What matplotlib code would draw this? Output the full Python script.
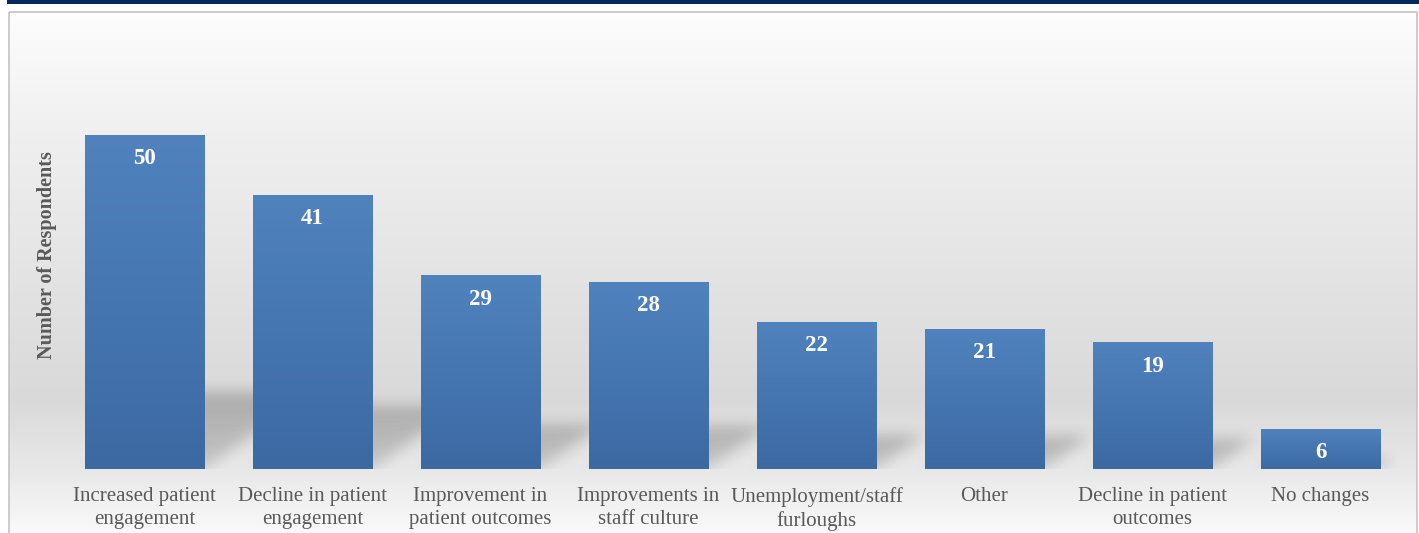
import numpy as np
import matplotlib
matplotlib.use("Agg")
import matplotlib.pyplot as plt
from matplotlib.colors import LinearSegmentedColormap
from matplotlib.patches import Rectangle

# data
categories = ["Increased patient\nengagement", "Decline in patient\nengagement",
              "Improvement in\npatient outcomes", "Improvements in\nstaff culture",
              "Unemployment/staff\nfurloughs", "Other", "Decline in patient\noutcomes",
              "No changes"]
respondents = [50, 41, 29, 28, 22, 21, 19, 6]

W, H = 1419, 533
fig = plt.figure(figsize=(W / 100, H / 100), dpi=100)
fig.patch.set_facecolor("white")

# navy band on top and the frame with its grey gradient
bg = fig.add_axes([0, 0, 1, 1], zorder=0)
bg.set_xlim(0, W)
bg.set_ylim(H, 0)
bg.axis("off")
grad_stops = [(0.0, "#fdfdfd"), (0.22, "#f0f0f0"), (0.73, "#d9d9d9"),
              (0.87, "#e9e9e9"), (1.0, "#fcfcfc")]
bg_cmap = LinearSegmentedColormap.from_list("bg", grad_stops)
grad = np.tile(np.linspace(0, 1, 512).reshape(-1, 1), (1, 8))
bg.imshow(grad, cmap=bg_cmap, aspect="auto", interpolation="bilinear",
          extent=(9, 1417, H + 10, 12), zorder=0)
bg.set_xlim(0, W)
bg.set_ylim(H, 0)
bg.add_patch(Rectangle((8.5, 11.5), 1408, 530, fill=False, edgecolor="#c4c4c4", lw=1.2, zorder=1))
bg.add_patch(Rectangle((7, 0), W - 7, 4, color="#002b5c", lw=0, zorder=2))

# main axes
ax = fig.add_axes([60.5 / W, (H - 469) / H, 1344 / W, 401 / H], zorder=1)
ax.patch.set_alpha(0)
x = np.arange(len(respondents))
for s in ax.spines.values():
    s.set_visible(False)
ax.set_yticks([])
ax.set_xticks(x)
ax.set_xticklabels(categories, fontfamily="Liberation Serif", fontsize=15,
                   color="#595959", linespacing=1.25)
ax.tick_params(axis="x", length=0, pad=13)

width = 0.71
bars = ax.bar(x, respondents, width=width, color="#4a78b3", edgecolor="#6a98d0",
              linewidth=0.6, zorder=3)

# perspective shadows cast up and to the right of every bar
ymax = 60
ncol, nrow = 1344, 401
xs = np.linspace(-0.5, len(respondents) - 0.5, ncol)
ys = np.linspace(0, ymax, nrow)
XX, YY = np.meshgrid(xs, ys)
alpha = np.zeros_like(XX)
px_ratio = (401 / ymax) / (1344 / len(respondents))
for xi, v in zip(x, respondents):
    hs = 0.23 * v
    dxu = 0.32 * v * px_ratio
    shift = YY / hs * dxu
    m = (YY <= hs) & (XX >= xi - width / 2 + shift) & (XX <= xi + width / 2 + shift)
    a = 0.15 + 0.06 * (YY / hs)
    alpha = np.maximum(alpha, np.where(m, a, 0))


def blur(img, sigma):
    k = np.arange(-3 * sigma, 3 * sigma + 1)
    g = np.exp(-k ** 2 / (2 * sigma ** 2))
    g /= g.sum()
    img = np.apply_along_axis(lambda r: np.convolve(r, g, mode="same"), 1, img)
    img = np.apply_along_axis(lambda c: np.convolve(c, g, mode="same"), 0, img)
    return img


alpha = blur(alpha, 7)
shadow = np.zeros((nrow, ncol, 4))
shadow[..., 3] = alpha
ax.imshow(shadow, origin="lower", extent=(-0.5, len(respondents) - 0.5, 0, ymax),
          aspect="auto", zorder=1, interpolation="nearest")

# vertical gradient fill in each bar
bar_cmap = LinearSegmentedColormap.from_list("bar", ["#3d69a2", "#4576b2", "#5082be"])
for b in bars:
    im = ax.imshow(np.tile(np.linspace(0, 1, 128).reshape(-1, 1), (1, 4)), cmap=bar_cmap,
                   origin="lower", aspect="auto", zorder=3.5, interpolation="bilinear",
                   extent=(b.get_x(), b.get_x() + b.get_width(), 0, b.get_height()))
    im.set_clip_path(b)

for xi, v in zip(x, respondents):
    ax.annotate(str(v), (xi, v), xytext=(0, -24), textcoords="offset pixels",
                ha="center", va="center", color="white", fontsize=16.5,
                fontweight="bold", fontfamily="Liberation Serif", zorder=5)

ax.set_ylim(0, ymax)
ax.set_xlim(-0.5, len(respondents) - 0.5)

fig.text(47 / W, 1 - 255 / H, "Number of Respondents", rotation=90, ha="center",
         va="center", fontsize=14.5, fontweight="bold", color="#595959",
         fontfamily="Liberation Serif")

fig.savefig("out.png", dpi=100)
